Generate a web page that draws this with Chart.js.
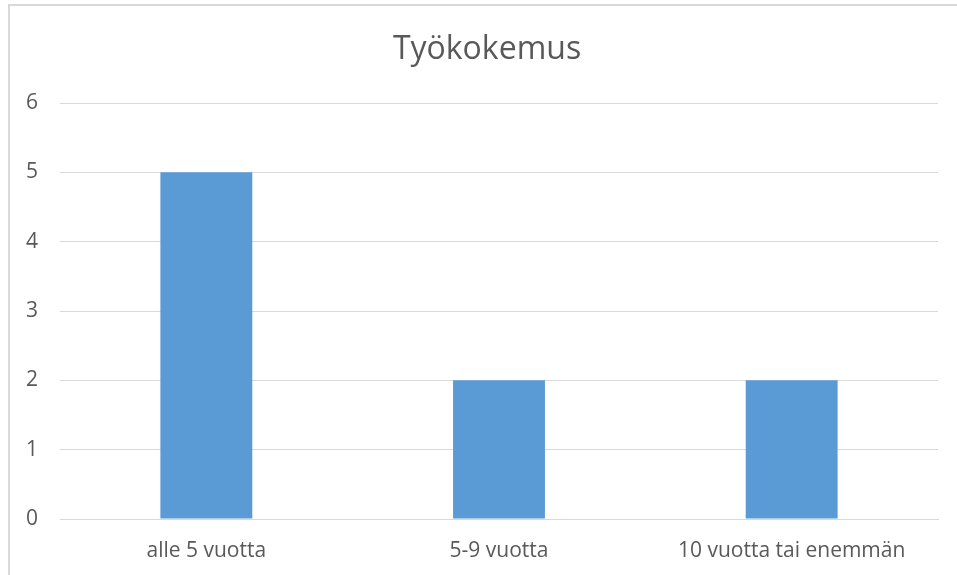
<!DOCTYPE html>
<html>
<head>
<meta charset="utf-8">
<script src="https://cdn.jsdelivr.net/npm/chart.js@4"></script>
<style>
  html, body { margin: 0; padding: 0; background: #fff; overflow: hidden; }
  #wrap { position: relative; width: 957px; height: 575px; }
  #frame { position: absolute; left: 8px; top: 4px; width: 980px; height: 600px; border: 2px solid #d9d9d9; box-sizing: border-box; }
  canvas { position: absolute; left: 0; top: 0; }
</style>
</head>
<body>
<div id="wrap">
  <div id="frame"></div>
  <canvas id="chart" width="957" height="575"></canvas>
</div>
<script>
const TITLE = "Työkokemus";
const CATEGORIES = ["alle 5 vuotta", "5-9 vuotta", "10 vuotta tai enemmän"];
const VALUES = [5, 2, 2];
const Y_MIN = 0, Y_MAX = 6, Y_STEP = 1;

const TEXT = "#595959";
const GRID = "#d9d9d9";
const FONT = "'Open Sans', Lato, sans-serif";

// the original title sits a bit left of the plot centre, so draw it ourselves
const titlePlugin = {
    id: "offsetTitle",
    afterDraw(chart) {
        const ctx = chart.ctx;
        const area = chart.chartArea;
        ctx.save();
        ctx.font = "32px " + FONT;
        ctx.fillStyle = TEXT;
        ctx.textAlign = "center";
        ctx.textBaseline = "middle";
        ctx.fillText(TITLE, (area.left + area.right) / 2 - 12, area.top - 53);
        ctx.restore();
    }
};

new Chart(document.getElementById("chart"), {
    type: "bar",
    data: {
        labels: CATEGORIES,
        datasets: [{ data: VALUES, backgroundColor: "#5b9bd5", categoryPercentage: 1, barPercentage: 0.314 }]
    },
    options: {
        responsive: false,
        animation: false,
        layout: { padding: { top: 103, right: 19, left: 0, bottom: 0 } },
        plugins: {
            legend: { display: false },
            tooltip: { enabled: false },
            title: { display: false }
        },
        scales: {
            x: {
                grid: { display: false, drawTicks: false },
                border: { color: GRID, width: 1 },
                ticks: { color: TEXT, font: { family: FONT, size: 21 }, padding: 19, maxRotation: 0 },
                afterFit: s => { s.height = 56; }
            },
            y: {
                min: Y_MIN, max: Y_MAX,
                grid: { color: GRID, lineWidth: 1, drawTicks: false },
                border: { display: false },
                ticks: { stepSize: Y_STEP, color: TEXT, font: { family: FONT, size: 21 }, padding: 22 },
                afterFit: s => { s.width = 60; }
            }
        }
    },
    plugins: [titlePlugin]
});
</script>
</body>
</html>
